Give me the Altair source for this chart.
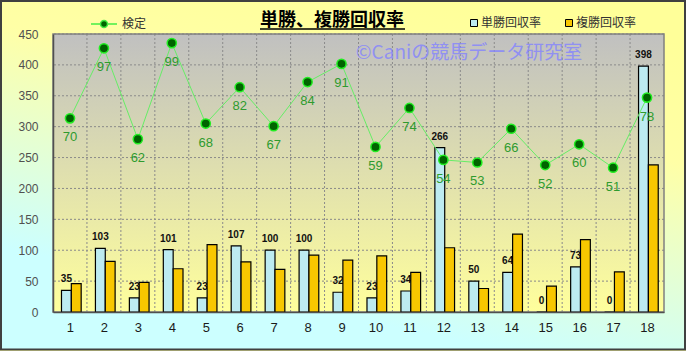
import altair as alt
import pandas as pd

# ---- data ----
races = list(range(1, 19))
tansho = [35, 103, 23, 101, 23, 107, 100, 100, 32, 23, 34, 266, 50, 64, 0, 73, 0, 398]
fukusho = [46, 82, 48, 70, 109, 81, 69, 92, 84, 91, 64, 104, 38, 126, 42, 117, 65, 238]
kentei = [70, 97, 62, 99, 68, 82, 67, 84, 91, 59, 74, 54, 53, 66, 52, 60, 51, 78]
y_ticks = [0, 50, 100, 150, 200, 250, 300, 350, 400, 450]
series = ["単勝回収率", "複勝回収率"]
line_name = "検定"
title_text = "単勝、複勝回収率"
watermark = "©Caniの競馬データ研究室"

JP = "Noto Sans CJK JP"
NUM = "Liberation Sans"
W, H = 611, 278

df = pd.DataFrame({"race": races, "tan": tansho, "fuku": fukusho, "ken": kentei})
df["s_tan"] = series[0]
df["s_fuku"] = series[1]
df["k"] = line_name
hgrid = pd.DataFrame({"t": y_ticks[1:]})
vgrid = pd.DataFrame({"b": [r + 0.5 for r in races[:-1]]})
one = pd.DataFrame({"a": [0]})

xs = alt.Scale(domain=[0.5, 18.5], nice=False, zero=False)
ys = alt.Scale(domain=[0, 450], nice=False)
ys2 = alt.Scale(domain=[-4.6, 102.5], nice=False, zero=False)
cscale = alt.Scale(domain=series, range=["#BDEBF1", "#F8C700"])

xaxis = alt.Axis(
    values=races, format="d", title=None, grid=False, ticks=False, tickSize=0,
    labelFont=NUM, labelFontSize=13, labelColor="#1a1a1a", labelPadding=9,
    domain=True, domainColor="#505050", domainWidth=1.5, zindex=1)
yaxis = alt.Axis(
    values=y_ticks, title=None, grid=False, ticks=False, tickSize=0,
    labelFont=NUM, labelFontSize=12, labelColor="#505050", labelPadding=15,
    domain=True, domainColor="#505050", domainWidth=1.5, zindex=1)

bar_legend = alt.Legend(
    title=None, orient="none", legendX=415, legendY=-17, direction="horizontal",
    symbolType="square", symbolSize=49, symbolStrokeColor="black", symbolStrokeWidth=1,
    labelFont=JP, labelFontSize=12, labelColor="#333333", labelOffset=1,
    columnPadding=21, padding=0, zindex=1,
)

outer_bg = alt.Chart(one).mark_rect(
    fill=alt.LinearGradient(
        gradient="linear",
        stops=[alt.GradientStop(color="#FFFF99", offset=0),
               alt.GradientStop(color="#FFFFA6", offset=0.3),
               alt.GradientStop(color="#CCFFFF", offset=0.85),
               alt.GradientStop(color="#CCFFFF", offset=1)],
        x1=0.7, y1=0, x2=0.3, y2=1),
    stroke="#404040", strokeWidth=2,
).encode(x=alt.value(-52), x2=alt.value(632), y=alt.value(-33), y2=alt.value(315.5))

plot_bg = alt.Chart(one).mark_rect(
    fill=alt.LinearGradient(
        gradient="linear",
        stops=[alt.GradientStop(color="#C0C0C0", offset=0),
               alt.GradientStop(color="#FFFF9C", offset=1)],
        x1=0, y1=0, x2=0, y2=1),
).encode(x=alt.value(0), x2=alt.value(W), y=alt.value(0), y2=alt.value(H))

h_rules = alt.Chart(hgrid).mark_rule(color="#8a8a8a", strokeDash=[2, 2], strokeWidth=1).encode(
    y=alt.Y("t:Q", scale=ys, axis=yaxis))
v_rules = alt.Chart(vgrid).mark_rule(color="#8a8a8a", strokeDash=[2, 2], strokeWidth=1).encode(
    x=alt.X("b:Q", scale=xs, axis=xaxis))

frame = alt.Chart(one).mark_rect(fill=None, stroke="#808080", strokeWidth=1.5).encode(
    x=alt.value(0), x2=alt.value(W), y=alt.value(0), y2=alt.value(H))

wm = alt.Chart(one).mark_text(font=JP, fontSize=19, color="#8484FF", opacity=0.8).encode(
    x=alt.value(416), y=alt.value(19), text=alt.value(watermark))

title_mark = alt.Chart(one).mark_text(font=JP, fontSize=18, fontWeight="bold", color="black",
                                      align="center", baseline="alphabetic").encode(
    x=alt.value(279), y=alt.value(-8), text=alt.value(title_text))
underline = alt.Chart(one).mark_rule(color="black", strokeWidth=1.5).encode(
    x=alt.value(207), x2=alt.value(352), y=alt.value(-5))

blue = alt.Chart(df).transform_calculate(
    xa="datum.race - 0.25", xb="datum.race + 0.04"
).mark_rect(stroke="black", strokeWidth=1.2).encode(
    x=alt.X("xa:Q", scale=xs, axis=xaxis),
    x2="xb:Q",
    y=alt.Y("tan:Q", scale=ys, axis=yaxis),
    y2=alt.datum(0),
    color=alt.Color("s_tan:N", scale=cscale, legend=bar_legend),
)

blue_lbl = alt.Chart(df).transform_calculate(
    xc="datum.race - 0.105"
).mark_text(font=NUM, fontSize=10, fontWeight="bold", color="#111111",
            baseline="alphabetic", dy=-8).encode(
    x=alt.X("xc:Q", scale=xs, axis=xaxis),
    y=alt.Y("tan:Q", scale=ys, axis=yaxis),
    text=alt.Text("tan:Q", format="d"),
)

yellow = alt.Chart(df).transform_calculate(
    xa="datum.race + 0.04", xb="datum.race + 0.33"
).mark_rect(stroke="black", strokeWidth=1.2).encode(
    x=alt.X("xa:Q", scale=xs, axis=xaxis),
    x2="xb:Q",
    y=alt.Y("fuku:Q", scale=ys, axis=yaxis),
    y2=alt.datum(0),
    color=alt.Color("s_fuku:N", scale=cscale, legend=bar_legend),
)

bar_group = alt.layer(outer_bg, plot_bg, h_rules, v_rules, wm, frame, title_mark, underline,
                      blue, blue_lbl, yellow)

line = alt.Chart(df).mark_line(color="#66EE66", strokeWidth=1).encode(
    x=alt.X("race:Q", scale=xs, axis=xaxis),
    y=alt.Y("ken:Q", scale=ys2, axis=None),
)
pts = alt.Chart(df).mark_point(filled=True, size=85, stroke="#22EE22", strokeWidth=1.5,
                               opacity=1).encode(
    x=alt.X("race:Q", scale=xs, axis=xaxis),
    y=alt.Y("ken:Q", scale=ys2, axis=None),
    fill=alt.Fill("k:N", scale=alt.Scale(domain=[line_name], range=["#006400"]),
                  legend=alt.Legend(
                      title=None, orient="none", legendX=37, legendY=-24,
                      symbolType="M-1,0H-0.27M0.27,0H1M0.27,0A0.27,0.27,0,1,1,-0.27,0A0.27,0.27,0,1,1,0.27,0Z",
                      symbolSize=676, symbolStrokeColor="#44EE44", symbolStrokeWidth=1.5,
                      labelFont=JP, labelFontSize=12, labelColor="#333333", labelOffset=4,
                      padding=0, zindex=1)),
)
g_lbl = alt.Chart(df).mark_text(font=NUM, fontSize=13, color="#2E9B2E", dy=19).encode(
    x=alt.X("race:Q", scale=xs, axis=xaxis),
    y=alt.Y("ken:Q", scale=ys2, axis=None),
    text=alt.Text("ken:Q", format="d"),
)
line_group = alt.layer(line, pts, g_lbl)

chart = alt.layer(bar_group, line_group).resolve_scale(y="independent").properties(
    width=W, height=H,
    autosize=alt.AutoSizeParams(type="none"),
    padding={"left": 53, "top": 34, "right": 22, "bottom": 39},
).configure_view(stroke=None).configure(background="#FFFFA0")

chart.save("out.html", embed_options={"renderer": "svg", "actions": False})
